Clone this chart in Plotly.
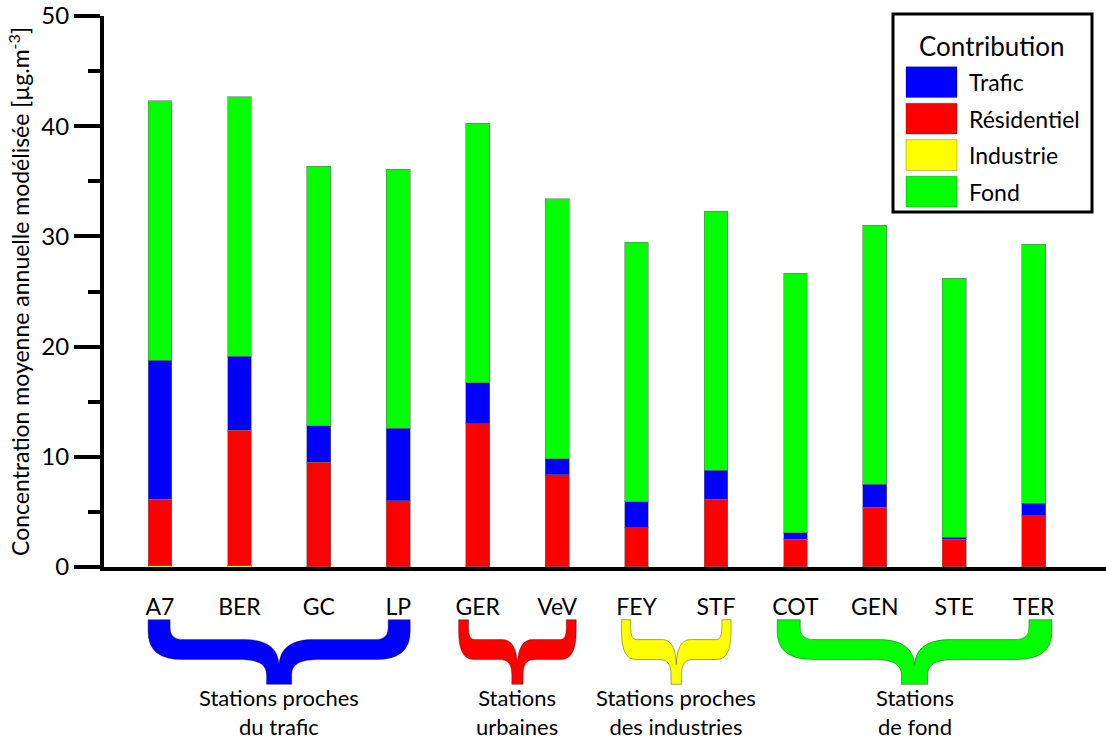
import plotly.graph_objects as go

# ---------------- data ----------------
stations = ["A7", "BER", "GC", "LP", "GER", "VeV", "FEY", "STF", "COT", "GEN", "STE", "TER"]
industrie = [0.10, 0.10, 0.02, 0.02, 0.02, 0.02, 0.03, 0.03, 0.02, 0.02, 0.02, 0.02]
residentiel = [6.06, 12.33, 9.48, 6.00, 12.98, 8.35, 3.55, 6.11, 2.48, 5.40, 2.48, 4.65]
trafic = [12.59, 6.70, 3.30, 6.58, 3.70, 1.47, 2.32, 2.64, 0.63, 2.08, 0.18, 1.13]
fond = [23.55, 23.53, 23.55, 23.50, 23.55, 23.56, 23.55, 23.52, 23.52, 23.50, 23.52, 23.50]

series_names = ["Industrie", "Résidentiel", "Trafic", "Fond"]
series_values = [industrie, residentiel, trafic, fond]
series_colors = ["#FFFF00", "#FF0000", "#0000FF", "#00FF00"]

legend_order = ["Trafic", "Résidentiel", "Industrie", "Fond"]
legend_title = "Contribution"

group_labels = ["Stations proches<br>du trafic", "Stations<br>urbaines",
                "Stations proches<br>des industries", "Stations<br>de fond"]
group_start = [0, 4, 6, 8]
group_end = [3, 5, 7, 11]
group_pad = [0.15, 0.24, 0.19, 0.23]
group_colors = ["#0000FF", "#FF0000", "#FFFF00", "#00FF00"]

y_ticks = [0, 10, 20, 30, 40, 50]
y_title = "Concentration moyenne annuelle modélisée [µg.m<sup>-3</sup>]"

# ---------------- layout helpers ----------------
W, H = 1106, 742
ML, MR, MT, MB = 104, 0, 13, 175
PW, PH = W - ML - MR, H - MT - MB
FONT = "Lato"


def ypap(py):
    return (H - MB - py) / PH


def xpap(px):
    return (px - ML) / PW


xpos = list(range(len(stations)))

fig = go.Figure()
for name, vals, col in zip(series_names, series_values, series_colors):
    fig.add_trace(go.Bar(
        x=xpos, y=vals, name=name, width=0.3,
        marker=dict(color=col, line=dict(color="rgba(110,110,110,0.55)", width=1)),
        showlegend=False,
    ))

# ---------------- braces ----------------
a = 0.084   # arm width (fraction of brace width)
t = 0.048   # tip half width
brace_pts = [
    ("M", [(0, 620)]),
    ("L", [(0, 632)]),
    ("Q", [(0, 660), (0.13, 660)]),
    ("L", [(0.34, 660)]),
    ("C", [(0.42, 660), (0.5 - t, 664), (0.5 - t, 676)]),
    ("L", [(0.5 - t, 685)]),
    ("L", [(0.5 + t, 685)]),
    ("L", [(0.5 + t, 676)]),
    ("C", [(0.5 + t, 664), (0.58, 660), (0.66, 660)]),
    ("L", [(0.87, 660)]),
    ("Q", [(1, 660), (1, 632)]),
    ("L", [(1, 620)]),
    ("L", [(1 - a, 620)]),
    ("L", [(1 - a, 628)]),
    ("Q", [(1 - a, 640), (1 - a - 0.05, 640)]),
    ("L", [(0.63, 640)]),
    ("C", [(0.55, 640), (0.505, 648), (0.5, 665)]),
    ("C", [(0.495, 648), (0.45, 640), (0.37, 640)]),
    ("L", [(a + 0.05, 640)]),
    ("Q", [(a, 640), (a, 628)]),
    ("L", [(a, 620)]),
]

for lab, s, e, pad, col in zip(group_labels, group_start, group_end, group_pad, group_colors):
    x0 = xpos[s] - pad
    x1 = xpos[e] + pad
    path = ""
    for cmd, pts in brace_pts:
        path += cmd + " " + " ".join(f"{x0 + u * (x1 - x0):.4f},{ypap(py):.5f}" for u, py in pts) + " "
    path += "Z"
    fig.add_shape(type="path", path=path, xref="x", yref="paper",
                  fillcolor=col, line=dict(color="rgba(0,0,0,0.35)", width=1), layer="above")
    fig.add_annotation(x=(xpos[s] + xpos[e]) / 2, y=ypap(683), xref="x", yref="paper",
                       text=lab, showarrow=False, yanchor="top", xanchor="center",
                       font=dict(family=FONT, size=22, color="black"))

# ---------------- legend (drawn) ----------------
fig.add_shape(type="rect", xref="paper", yref="paper",
              x0=xpap(893), x1=xpap(1092), y0=ypap(11), y1=ypap(210),
              line=dict(color="black", width=3), fillcolor="white", layer="above")
fig.add_annotation(x=xpap(992), y=ypap(43), xref="paper", yref="paper", text=legend_title,
                   showarrow=False, xanchor="center", yanchor="middle",
                   font=dict(family=FONT, size=26, color="black"))
for i, nm in enumerate(legend_order):
    col = series_colors[series_names.index(nm)]
    top = 64 + i * 36.7
    fig.add_shape(type="rect", xref="paper", yref="paper",
                  x0=xpap(906), x1=xpap(957), y0=ypap(top), y1=ypap(top + 31),
                  fillcolor=col, line=dict(color="rgba(0,0,0,0.25)", width=1), layer="above")
    fig.add_annotation(x=xpap(967), y=ypap(top + 15.5), xref="paper", yref="paper", text=nm,
                       showarrow=False, xanchor="left", yanchor="middle",
                       font=dict(family=FONT, size=23, color="black"))

fig.update_layout(
    width=W, height=H,
    margin=dict(l=ML, r=MR, t=MT, b=MB, pad=0),
    barmode="stack",
    plot_bgcolor="white", paper_bgcolor="white",
    font=dict(family=FONT, color="black"),
    showlegend=False,
)
fig.update_xaxes(
    range=[-0.705, 11.91], tickvals=xpos, ticktext=stations,
    showline=True, linecolor="black", linewidth=4, showgrid=False, zeroline=False,
    ticks="outside", ticklen=16, tickcolor="rgba(0,0,0,0)",
    tickfont=dict(family=FONT, size=23, color="black"),
)
fig.update_yaxes(
    range=[0, 50.001], tickvals=y_ticks, ticklabeloverflow="allow",
    showline=True, linecolor="black", linewidth=4, showgrid=False, zeroline=False,
    ticks="outside", ticklen=26, tickwidth=4, tickcolor="black",
    minor=dict(ticks="outside", ticklen=12, tickwidth=4, tickcolor="black", dtick=5, showgrid=False),
    tickfont=dict(family=FONT, size=24, color="black"),
    title=dict(text=y_title, font=dict(family=FONT, size=23, color="black"), standoff=6),
)

fig.write_html("out.html", config={"displayModeBar": False},
               post_script="document.body.style.margin='0';document.body.style.overflow='hidden';")
